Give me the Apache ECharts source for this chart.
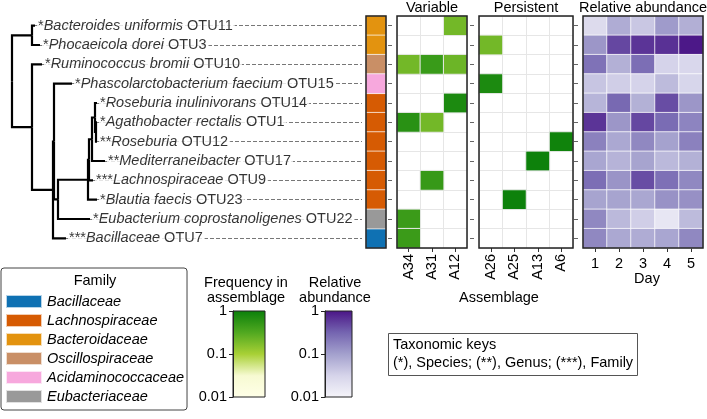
<!DOCTYPE html>
<html>
<head>
<meta charset="utf-8">
<script src="https://cdn.jsdelivr.net/npm/echarts@6/dist/echarts.min.js"></script>
<style>
html, body { margin: 0; padding: 0; background: #fff; }
#main { width: 707px; height: 419px; }
</style>
</head>
<body>
<div id="main"></div>
<script>
// rows, top to bottom
var otuIds = ['OTU11', 'OTU3', 'OTU10', 'OTU15', 'OTU14', 'OTU1', 'OTU12', 'OTU17', 'OTU9', 'OTU23', 'OTU22', 'OTU7'];
var otuStars = ['*', '*', '*', '*', '*', '*', '**', '**', '***', '*', '*', '***'];
var otuNames = ['Bacteroides uniformis', 'Phocaeicola dorei', 'Ruminococcus bromii', 'Phascolarctobacterium faecium',
  'Roseburia inulinivorans', 'Agathobacter rectalis', 'Roseburia', 'Mediterraneibacter', 'Lachnospiraceae',
  'Blautia faecis', 'Eubacterium coprostanoligenes', 'Bacillaceae'];
var otuFamily = ['Bacteroidaceae', 'Bacteroidaceae', 'Oscillospiraceae', 'Acidaminococcaceae',
  'Lachnospiraceae', 'Lachnospiraceae', 'Lachnospiraceae', 'Lachnospiraceae', 'Lachnospiraceae', 'Lachnospiraceae',
  'Eubacteriaceae', 'Bacillaceae'];

// families (legend order) and colours
var families = ['Bacillaceae', 'Lachnospiraceae', 'Bacteroidaceae', 'Oscillospiraceae', 'Acidaminococcaceae', 'Eubacteriaceae'];
var familyColors = ['#0f71b3', '#d65b03', '#e3930f', '#c98f66', '#f7a8dd', '#999999'];

// dendrogram: leaf tip depth per row, then joins [node, depth, childA, childB]
var leafDepth = [23, 28, 30, 60, 85, 85, 85, 93, 81, 85, 78, 54];
var treeJoins = [
  ['h', 84, 5, 6],
  ['g', 83, 4, 'h'],
  ['f', 80, 'g', 7],
  ['y', 77, 'f', 8],
  ['x', 76, 'y', 9],
  ['d', 46, 'x', 10],
  ['c1', 42, 3, 'd'],
  ['c', 41, 'c1', 11],
  ['b', 20, 2, 'c'],
  ['a', 20, 0, 1],
  ['root', 0, 'a', 'b']
];

// frequency in assemblage (0 = absent)
var variableCols = ['A34', 'A31', 'A12'];
var varA34 = [0, 0, 0.2, 0, 0, 0.6, 0, 0, 0, 0, 0.45, 0.45];
var varA31 = [0, 0, 0.46, 0, 0, 0.2, 0, 0, 0.48, 0, 0, 0];
var varA12 = [0.2, 0, 0.22, 0, 0.74, 0, 0, 0, 0, 0, 0, 0];

var persistentCols = ['A26', 'A25', 'A13', 'A6'];
var perA26 = [0, 0.2, 0, 0.74, 0, 0, 0, 0, 0, 0, 0, 0];
var perA25 = [0, 0, 0, 0, 0, 0, 0, 0, 0, 0.95, 0, 0];
var perA13 = [0, 0, 0, 0, 0, 0, 0, 0.95, 0, 0, 0, 0];
var perA6 = [0, 0, 0, 0, 0, 0, 0.9, 0, 0, 0, 0, 0];

// relative abundance per day
var days = ['1', '2', '3', '4', '5'];
var day1 = [0.025, 0.12, 0.24, 0.044, 0.063, 0.63, 0.18, 0.087, 0.26, 0.091, 0.16, 0.16];
var day2 = [0.076, 0.48, 0.07, 0.036, 0.29, 0.12, 0.083, 0.065, 0.126, 0.091, 0.058, 0.083];
var day3 = [0.042, 0.63, 0.26, 0.032, 0.069, 0.48, 0.16, 0.091, 0.44, 0.085, 0.036, 0.076];
var day4 = [0.11, 0.66, 0.032, 0.055, 0.44, 0.27, 0.095, 0.058, 0.25, 0.13, 0.017, 0.087];
var day5 = [0.072, 0.95, 0.028, 0.03, 0.12, 0.17, 0.18, 0.069, 0.16, 0.135, 0.055, 0.16];

var greenScale = ['#ffffe8', '#f7fad2', '#a8d035', '#50a820', '#0a7f0a'];
var purpleScale = ['#f6f5fa', '#d6d4ea', '#a3a0cd', '#7464b0', '#4a1486'];

var FONT = 'Liberation Sans, Arial, sans-serif';
var FS = 14.5;
var INK = '#000';
var TOP = 16, H = 232;

// 热图数据
function cells(cols) {
  var out = [];
  cols.forEach(function (col, ci) {
    col.forEach(function (v, ri) {
      if (v > 0) out.push([ci, ri, v, Math.log10(v)]);
    });
  });
  return out;
}

// 树的分支
var nodePos = {};
function getPos(k) {
  return typeof k === 'number' ? [leafDepth[k], k] : nodePos[k];
}
var branches = [];
treeJoins.forEach(function (j) {
  var p1 = getPos(j[2]), p2 = getPos(j[3]);
  var mid = (p1[1] + p2[1]) / 2;
  nodePos[j[0]] = [j[1], mid];
  [p1, p2].forEach(function (p) {
    branches.push({ coords: [[j[1], mid], [j[1], p[1]], [p[0], p[1]]] });
  });
});

var guides = otuIds.map(function (id, i) {
  return { coords: [[leafDepth[i], i], [350, i]] };
});
var leafLabels = otuIds.map(function (id, i) {
  return { value: [leafDepth[i], i], name: id };
});

function gradient(colors) {
  return {
    type: 'linear', x: 0, y: 1, x2: 0, y2: 0,
    colorStops: colors.map(function (c, i) { return { offset: i / (colors.length - 1), color: c }; })
  };
}

function panelX(grid, data, rotate, margin) {
  return {
    type: 'category', gridIndex: grid, data: data, position: 'bottom',
    axisLine: { show: false },
    axisTick: { show: true, alignWithLabel: true, length: 4, lineStyle: { color: '#333' } },
    axisLabel: { rotate: rotate, fontSize: FS, margin: margin, color: INK, fontFamily: FONT },
    splitLine: { show: true, lineStyle: { color: '#e6e6e6', width: 1 } }
  };
}
function panelY(grid) {
  return {
    type: 'category', gridIndex: grid, data: otuIds, inverse: true, offset: 5,
    axisLine: { show: false },
    axisTick: { show: true, alignWithLabel: true, length: 4, lineStyle: { color: '#666' } },
    axisLabel: { show: false },
    splitLine: { show: true, lineStyle: { color: '#e6e6e6', width: 1 } }
  };
}
function barY(grid) {
  return {
    type: 'log', gridIndex: grid, min: 0.01, max: 1, logBase: 10,
    axisLine: { show: true, lineStyle: { color: '#222' } },
    axisTick: { show: true, length: 4, lineStyle: { color: '#222' } },
    axisLabel: { fontSize: FS, margin: 6, color: INK, fontFamily: FONT },
    splitLine: { show: false }
  };
}

var familySeries = families.map(function (fam, fi) {
  var d = [];
  otuFamily.forEach(function (f, ri) { if (f === fam) d.push([0, ri, 1]); });
  return {
    type: 'heatmap', name: fam, xAxisIndex: 1, yAxisIndex: 1, data: d, silent: true,
    itemStyle: { color: familyColors[fi], borderColor: 'rgba(255,255,255,0.7)', borderWidth: 1 }
  };
});

var option = {
  animation: false,
  textStyle: { fontFamily: FONT },
  grid: [
    { left: 12, top: TOP, width: 354, height: H },
    { left: 366, top: TOP, width: 20, height: H, show: true, z: 10, backgroundColor: 'transparent', borderColor: '#222', borderWidth: 1.5 },
    { left: 397, top: TOP, width: 70, height: H, show: true, z: 10, backgroundColor: 'transparent', borderColor: '#222', borderWidth: 1.5 },
    { left: 479, top: TOP, width: 94, height: H, show: true, z: 10, backgroundColor: 'transparent', borderColor: '#222', borderWidth: 1.5 },
    { left: 583, top: TOP, width: 120, height: H, show: true, z: 10, backgroundColor: 'transparent', borderColor: '#222', borderWidth: 1.5 },
    { left: 233, top: 311, width: 32, height: 86, show: true, backgroundColor: gradient(greenScale), borderColor: '#222', borderWidth: 1 },
    { left: 325, top: 311, width: 27, height: 86, show: true, backgroundColor: gradient(purpleScale), borderColor: '#222', borderWidth: 1 }
  ],
  xAxis: [
    { type: 'value', gridIndex: 0, min: 0, max: 354, show: false },
    { type: 'category', gridIndex: 1, data: ['family'], show: false },
    panelX(2, variableCols, 90, 6),
    panelX(3, persistentCols, 90, 6),
    panelX(4, days, 0, 8),
    { type: 'value', gridIndex: 5, show: false },
    { type: 'value', gridIndex: 6, show: false }
  ],
  yAxis: [
    { type: 'value', gridIndex: 0, min: -0.5, max: 11.5, inverse: true, show: false },
    { type: 'category', gridIndex: 1, data: otuIds, inverse: true, show: false },
    panelY(2),
    panelY(3),
    panelY(4),
    barY(5),
    barY(6)
  ],
  visualMap: [
    { type: 'continuous', show: false, seriesIndex: [3 + families.length, 4 + families.length], dimension: 3, min: -2, max: 0, inRange: { color: greenScale } },
    { type: 'continuous', show: false, seriesIndex: [5 + families.length], dimension: 3, min: -2, max: 0, inRange: { color: purpleScale } }
  ],
  legend: {
    data: families, orient: 'vertical', left: 1, top: 268,
    padding: [26, 3, 6, 4], itemWidth: 36, itemHeight: 13, itemGap: 4, icon: 'rect',
    borderColor: '#444', borderWidth: 1, borderRadius: 3, selectedMode: false,
    textStyle: { fontStyle: 'italic', fontSize: FS, color: INK, fontFamily: FONT }
  },
  title: {
    text: 'Taxonomic keys\n(*), Species; (**), Genus; (***), Family',
    left: 388, top: 333, padding: [3, 5, 4, 5],
    borderColor: '#555', borderWidth: 1,
    textStyle: { fontSize: FS, fontWeight: 'normal', lineHeight: 18, color: INK, fontFamily: FONT }
  },
  graphic: [
    ['Variable', 432, 8], ['Persistent', 526, 8], ['Relative abundance', 643, 8],
    ['Assemblage', 499, 298], ['Day', 647, 279],
    ['Frequency in', 246, 283], ['assemblage', 246, 298],
    ['Relative', 335, 283], ['abundance', 335, 298],
    ['Family', 95, 281]
  ].map(function (t) {
    return {
      type: 'text', x: t[1], y: t[2], silent: true,
      style: { text: t[0], fill: INK, font: FS + 'px ' + FONT, textAlign: 'center', textVerticalAlign: 'middle' }
    };
  }),
  series: [
    {
      type: 'lines', coordinateSystem: 'cartesian2d', xAxisIndex: 0, yAxisIndex: 0, polyline: true,
      data: branches, silent: true, z: 3,
      lineStyle: { color: '#000', width: 2.2, opacity: 1 }
    },
    {
      type: 'lines', coordinateSystem: 'cartesian2d', xAxisIndex: 0, yAxisIndex: 0,
      data: guides, silent: true, z: 2,
      lineStyle: { color: '#777', width: 1, type: [4, 2], opacity: 1 }
    },
    {
      type: 'scatter', xAxisIndex: 0, yAxisIndex: 0, data: leafLabels, symbolSize: 0, silent: true, z: 5,
      label: {
        show: true, position: 'right', distance: 2, backgroundColor: '#fff', padding: [0, 2, 0, 1],
        formatter: function (p) {
          var i = p.value[1];
          return '{s|' + otuStars[i] + '}{n|' + otuNames[i] + '}{s| ' + otuIds[i] + '}';
        },
        rich: {
          s: { fontSize: FS, color: INK, fontFamily: FONT },
          n: { fontSize: FS, color: INK, fontStyle: 'italic', fontFamily: FONT }
        }
      }
    }
  ].concat(familySeries).concat([
    {
      type: 'heatmap', xAxisIndex: 2, yAxisIndex: 2, data: cells([varA34, varA31, varA12]), silent: true,
      itemStyle: { borderColor: '#eaeaea', borderWidth: 1 }
    },
    {
      type: 'heatmap', xAxisIndex: 3, yAxisIndex: 3, data: cells([perA26, perA25, perA13, perA6]), silent: true,
      itemStyle: { borderColor: '#eaeaea', borderWidth: 1 }
    },
    {
      type: 'heatmap', xAxisIndex: 4, yAxisIndex: 4, data: cells([day1, day2, day3, day4, day5]), silent: true,
      itemStyle: { borderColor: 'rgba(255,255,255,0.75)', borderWidth: 1 }
    }
  ])
};

var chart = echarts.init(document.getElementById('main'));
chart.setOption(option);
</script>
</body>
</html>
